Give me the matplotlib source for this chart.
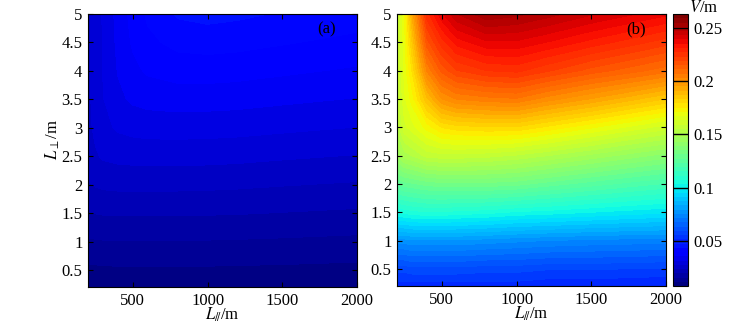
"""
Two filled-contour maps (a), (b) of V over L_par and L_perp
with a shared jet colour bar
"""

import matplotlib
matplotlib.use("Agg")
import matplotlib.pyplot as plt
import matplotlib.ticker as mticker
import numpy as np

plt.rcParams["font.family"] = ["Liberation Serif", "DejaVu Serif"]
plt.rcParams["mathtext.fontset"] = "stix"
plt.rcParams["font.size"] = 12


# grid
L_par = [200, 250, 300, 400, 500, 600, 800, 1000, 1200, 1500, 2000]
L_perp = [0.2, 0.5, 1, 1.5, 2, 2.5, 3, 3.5, 4, 4.5, 5]

# panel (a), rows = L_perp, cols = L_par
V_a = [
    [0.0082, 0.0082, 0.0082, 0.0083, 0.0083, 0.0083, 0.0083, 0.0083, 0.0083, 0.0082, 0.0080],
    [0.0102, 0.0103, 0.0104, 0.0105, 0.0105, 0.0105, 0.0105, 0.0105, 0.0104, 0.0103, 0.0100],
    [0.0140, 0.0142, 0.0143, 0.0144, 0.0144, 0.0144, 0.0144, 0.0143, 0.0142, 0.0140, 0.0136],
    [0.0178, 0.0181, 0.0183, 0.0184, 0.0184, 0.0184, 0.0184, 0.0183, 0.0182, 0.0179, 0.0174],
    [0.0212, 0.0218, 0.0222, 0.0224, 0.0224, 0.0224, 0.0224, 0.0223, 0.0221, 0.0217, 0.0211],
    [0.0230, 0.0245, 0.0255, 0.0260, 0.0262, 0.0263, 0.0263, 0.0262, 0.0260, 0.0255, 0.0248],
    [0.0238, 0.0260, 0.0275, 0.0290, 0.0296, 0.0299, 0.0300, 0.0299, 0.0297, 0.0292, 0.0284],
    [0.0241, 0.0265, 0.0283, 0.0312, 0.0326, 0.0332, 0.0336, 0.0335, 0.0333, 0.0327, 0.0318],
    [0.0242, 0.0267, 0.0286, 0.0322, 0.0346, 0.0360, 0.0370, 0.0371, 0.0368, 0.0361, 0.0350],
    [0.0243, 0.0267, 0.0287, 0.0328, 0.0360, 0.0382, 0.0400, 0.0404, 0.0401, 0.0393, 0.0380],
    [0.0243, 0.0267, 0.0288, 0.0332, 0.0368, 0.0396, 0.0430, 0.0437, 0.0432, 0.0422, 0.0408],
]

# panel (b)
V_b = [
    [0.050, 0.050, 0.050, 0.050, 0.050, 0.050, 0.050, 0.050, 0.049, 0.049, 0.048],
    [0.057, 0.057, 0.058, 0.058, 0.058, 0.058, 0.057, 0.057, 0.056, 0.056, 0.055],
    [0.076, 0.076, 0.077, 0.077, 0.077, 0.077, 0.076, 0.075, 0.074, 0.073, 0.072],
    [0.104, 0.105, 0.106, 0.107, 0.107, 0.106, 0.105, 0.103, 0.102, 0.100, 0.097],
    [0.126, 0.128, 0.129, 0.131, 0.132, 0.132, 0.132, 0.131, 0.128, 0.124, 0.118],
    [0.145, 0.150, 0.152, 0.157, 0.158, 0.158, 0.157, 0.155, 0.152, 0.147, 0.139],
    [0.153, 0.162, 0.165, 0.172, 0.178, 0.180, 0.181, 0.181, 0.177, 0.171, 0.161],
    [0.156, 0.166, 0.172, 0.188, 0.200, 0.204, 0.206, 0.207, 0.202, 0.196, 0.185],
    [0.157, 0.168, 0.178, 0.204, 0.216, 0.222, 0.226, 0.227, 0.223, 0.217, 0.209],
    [0.158, 0.169, 0.185, 0.217, 0.228, 0.235, 0.240, 0.240, 0.237, 0.232, 0.224],
    [0.158, 0.170, 0.193, 0.228, 0.240, 0.248, 0.255, 0.253, 0.250, 0.245, 0.238],
]

V_min, V_max = 0.0075, 0.263
cbar_ticks = [0.05, 0.1, 0.15, 0.2, 0.25]


fig = plt.figure(figsize=(7.56, 3.23), dpi=100)
ax_a = fig.add_axes([88/756, 1-287/323, 269/756, 273/323])
ax_b = fig.add_axes([397/756, 1-286/323, 269/756, 272/323])
cax = fig.add_axes([673/756, 1-286/323, 15/756, 272/323])

norm = matplotlib.colors.Normalize(vmin=V_min, vmax=V_max)
cmap = plt.get_cmap("jet")

ax_a.contourf(L_par, L_perp, V_a, levels=np.arange(0.0075, 0.0475, 0.0035), cmap=cmap, norm=norm)
ax_b.contourf(L_par, L_perp, V_b, levels=np.linspace(V_min, V_max, 70), cmap=cmap, norm=norm)

fmt = mticker.FuncFormatter(lambda v, p: "%g" % v)
for ax, tag in [(ax_a, "(a)"), (ax_b, "(b)")]:
    ax.set_xlim(200, 2000)
    ax.set_ylim(0.2, 5)
    ax.set_xticks([500, 1000, 1500, 2000])
    ax.set_yticks(np.arange(0.5, 5.01, 0.5))
    ax.yaxis.set_major_formatter(fmt)
    ax.tick_params(direction="in", length=3.5, width=0.8, top=True, right=True, pad=4)
    ax.set_xlabel(r"$L_{/\!/}$/m", labelpad=-2)
    ax.text(0.888, 0.945, tag, transform=ax.transAxes, ha="center", va="center")

ax_a.set_ylabel(r"$L_{\perp}$/m")
ax_a.yaxis.set_label_coords(-0.097, 0.54)

sm = matplotlib.cm.ScalarMappable(norm=norm, cmap=plt.get_cmap("jet", 64))
cb = fig.colorbar(sm, cax=cax, ticks=cbar_ticks)
cb.ax.yaxis.set_major_formatter(fmt)
cb.ax.tick_params(direction="in", length=11, width=1, color="k", pad=4)
cb.outline.set_linewidth(0.8)
fig.text(704/756, 1.0, r"$V$/m", ha="center", va="top")

fig.savefig("out.png", dpi=100)
